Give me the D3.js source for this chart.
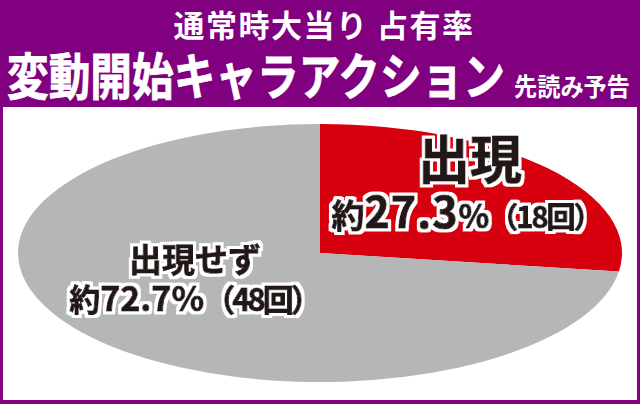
<!DOCTYPE html>
<html><head><meta charset="utf-8">
<script src="https://cdn.jsdelivr.net/npm/d3@7/dist/d3.min.js"></script>
<style>
html,body{margin:0;padding:0;background:#800080;}
svg{display:block;}
text{font-family:"Noto Sans CJK JP","Noto Sans",sans-serif;font-weight:bold;}
</style></head>
<body>
<svg id="c" width="640" height="404"></svg>
<script>
const titleLine1 = "通常時大当り 占有率";
const titleMain = "変動開始キャラアクション";
const titleSub = "先読み予告";
const categories = ["出現", "出現せず"];
const values = [27.3, 72.7];
const counts = [18, 48];
const colors = ["#d7000f", "#b5b6b8"];

const svg = d3.select("#c");
const defs = svg.append("defs");
const f = defs.append("filter").attr("id","halo").attr("x","-10%").attr("y","-20%").attr("width","120%").attr("height","140%");
f.append("feMorphology").attr("in","SourceAlpha").attr("operator","dilate").attr("radius",3).attr("result","d");
f.append("feFlood").attr("flood-color","#fff").attr("result","w");
f.append("feComposite").attr("in","w").attr("in2","d").attr("operator","in").attr("result","h");
const m = f.append("feMerge");
m.append("feMergeNode").attr("in","h");
m.append("feMergeNode").attr("in","SourceGraphic");

svg.append("rect").attr("width",640).attr("height",404).attr("fill","#800080");
svg.append("rect").attr("x",3).attr("y",107).attr("width",634).attr("height",293).attr("fill","#ffffff");

svg.append("text").attr("x",324).attr("y",37).attr("text-anchor","middle")
  .attr("fill","#fff").attr("font-size",31).attr("letter-spacing",1.5).text(titleLine1);

// main title: fit to 498px width by horizontal scaling
const mainT = svg.append("text").attr("fill","#fff")
  .attr("stroke","#fff").attr("stroke-width",0.8)
  .attr("font-size",50).text(titleMain);
const mw = mainT.node().getComputedTextLength();
mainT.attr("transform",`translate(7,95) scale(${498/mw},1)`);
const subT = svg.append("text").attr("fill","#fff").attr("font-size",25).text(titleSub);
const sw = subT.node().getComputedTextLength();
subT.attr("transform",`translate(514,96) scale(${116/sw},1)`);

const cx = 320, cy = 253, rx = 302, ry = 129;
const data = categories.map((c,i)=>({cat:c, value:values[i], count:counts[i], color:colors[i]}));
const pie = d3.pie().sort(null).value(d=>d.value);
const arc = d3.arc().innerRadius(0).outerRadius(rx);
const g = svg.append("g").attr("transform",`translate(${cx},${cy}) scale(1,${ry/rx})`);
g.selectAll("path").data(pie(data)).join("path").attr("d",arc).attr("fill",d=>d.data.color);

const fmt = d3.format(".1f");
function label(x, y, parts){
  const t = svg.append("text").attr("x",x).attr("y",y).attr("text-anchor","middle")
    .attr("fill","#231815").attr("stroke","#231815").attr("stroke-width",1)
    .attr("stroke-linejoin","round").attr("filter","url(#halo)");
  parts.forEach(p=>{
    const s = t.append("tspan").attr("font-size",p.size).text(p.text);
    if(p.ls!=null) s.attr("letter-spacing",p.ls);
  });
}
const d0 = data[0], d1 = data[1];
label(470, 179, [{text:d0.cat, size:52}]);
label(466, 228, [
  {text:"約", size:33},
  {text:fmt(d0.value), size:43, ls:1},
  {text:"%", size:32},
  {text:`（${d0.count}回）`, size:29, ls:-2}
]);
label(195, 272, [{text:d1.cat, size:33}]);
label(194, 311, [
  {text:"約", size:31},
  {text:fmt(d1.value)+"%", size:34},
  {text:`（${d1.count}回）`, size:31, ls:-3}
]);
</script>
</body></html>
